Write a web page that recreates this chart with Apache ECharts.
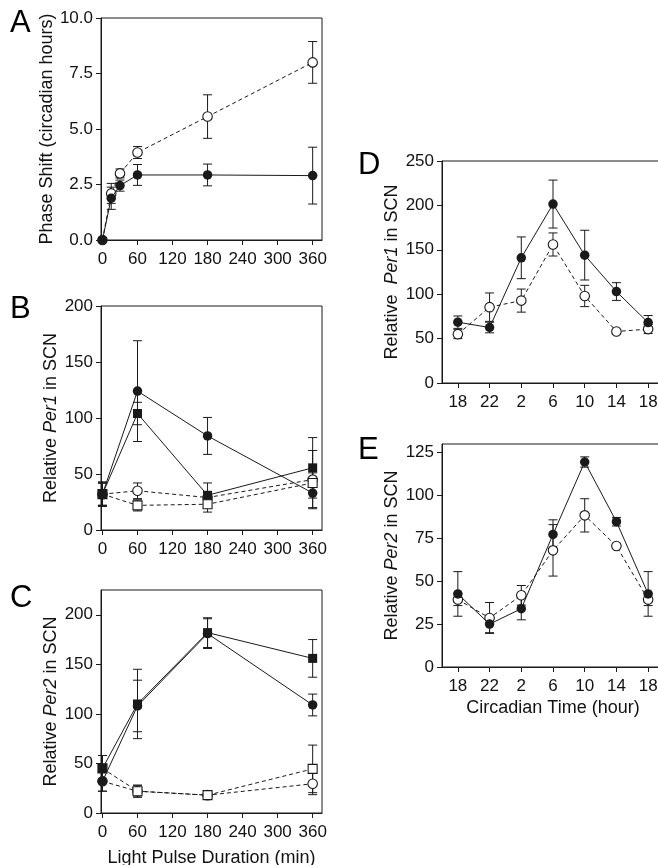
<!DOCTYPE html>
<html>
<head>
<meta charset="utf-8">
<script src="https://cdn.jsdelivr.net/npm/echarts@6/dist/echarts.min.js"></script>
<style>
  html, body { margin: 0; padding: 0; overflow: hidden; background: #fff; }
  #chart { width: 672px; height: 865px; }
</style>
</head>
<body>
<div id="chart"></div>
<script>
// ---- Panel A: phase shift vs light pulse duration ----
const pulseA = [0, 15, 30, 60, 180, 360];
const shiftFilled = [0, 1.88, 2.45, 2.93, 2.93, 2.9];
const shiftFilledErr = [0, 0.5, 0.25, 0.47, 0.49, 1.28];
const shiftOpen = [0, 2.1, 3.0, 3.94, 5.56, 8.0];
const shiftOpenErr = [0, 0.45, 0.2, 0.27, 0.98, 0.94];

// ---- Panels B, C: Per1 / Per2 vs light pulse duration ----
const pulseBC = [0, 60, 180, 360];
const per1FilledCircle = [32, 124, 84, 33];
const per1FilledCircleErr = [11, 45, 16.5, 13];
const per1FilledSquare = [32, 104, 31, 55.5];
const per1FilledSquareErr = [10, 10, 11, 27];
const per1OpenCircle = [32, 35, 29, 45];
const per1OpenCircleErr = [10, 7, 5, 26];
const per1OpenSquare = [32, 22, 23, 42];
const per1OpenSquareErr = [10, 5, 7, 9];

const per2FilledSquare = [45, 110, 182, 156];
const per2FilledSquareErr = [13, 35, 15, 19];
const per2FilledCircle = [32, 108, 181, 109];
const per2FilledCircleErr = [10, 26, 15, 11];
const per2OpenSquare = [45, 22, 18, 44.5];
const per2OpenSquareErr = [13, 6, 3, 24];
const per2OpenCircle = [32, 22, 18, 29.5];
const per2OpenCircleErr = [10, 6, 3, 11];

// ---- Panels D, E: Per1 / Per2 across circadian time ----
const ctLabels = ['18', '22', '2', '6', '10', '14', '18'];
const per1CtFilled = [68.5, 62.5, 141, 201.5, 144, 103, 68];
const per1CtFilledErr = [7, 6, 23.5, 27, 28, 10, 8];
const per1CtOpen = [55, 85.4, 92.8, 156, 98, 58, 60.7];
const per1CtOpenErr = [5, 16, 13, 13, 12, 2, 5];
const per2CtFilled = [42.6, 25, 34, 77.3, 119.5, 84.7, 42.6];
const per2CtFilledErr = [13, 5, 6.5, 8.5, 3, 2.5, 13];
const per2CtOpen = [39.3, 28.6, 41.8, 68, 88.4, 70.5, 39.3];
const per2CtOpenErr = [3.5, 9, 5.7, 15, 9.7, 1, 3.5];

const pulseTicks = [0, 60, 120, 180, 240, 300, 360];
const ctIndex = ctLabels.map((_, i) => i);

const INK = '#1a1a1a';
const TXT = '#121212';
const FONT = '"Liberation Sans", Arial, Helvetica, sans-serif';
const TICK_FS = 17;
const NAME_FS = 18;

// D and E run past the right edge of the page, so the canvas is a little wider than the window
const grids = [
  { left: 101, top: 18, width: 221, height: 222 },   // A
  { left: 101, top: 306, width: 221, height: 224 },  // B
  { left: 101, top: 590, width: 221, height: 223 },  // C
  { left: 442, top: 161, width: 222, height: 222 },  // D
  { left: 442, top: 444, width: 222, height: 223 }   // E
].map(g => Object.assign({
  show: true, borderColor: INK, borderWidth: 1, backgroundColor: 'transparent',
  containLabel: false, outerBoundsMode: 'none'
}, g));

const richName = {
  a: { fontSize: NAME_FS, fontFamily: FONT, color: TXT },
  i: { fontSize: NAME_FS, fontFamily: FONT, color: TXT, fontStyle: 'italic' }
};

function baseAxis(gridIndex) {
  return {
    gridIndex,
    type: 'value',
    axisLine: { show: true, onZero: false, lineStyle: { color: INK, width: 1 } },
    axisTick: { show: true, length: 5, inside: false, lineStyle: { color: INK, width: 1 } },
    axisLabel: { fontSize: TICK_FS, fontFamily: FONT, color: TXT },
    splitLine: { show: false },
    nameTextStyle: { fontSize: NAME_FS, fontFamily: FONT, color: TXT, rich: richName }
  };
}

function pulseXAxis(gridIndex, name) {
  const ax = baseAxis(gridIndex);
  ax.min = -2.5; ax.max = 376;
  ax.axisTick.customValues = pulseTicks;
  ax.axisLabel.customValues = pulseTicks;
  ax.axisLabel.margin = 11;
  if (name) { ax.name = name; ax.nameLocation = 'middle'; ax.nameGap = 36; }
  return ax;
}

function ctXAxis(gridIndex, name) {
  const ax = baseAxis(gridIndex);
  ax.min = -0.5; ax.max = 6.5;
  ax.axisTick.customValues = ctIndex;
  ax.axisLabel.customValues = ctIndex;
  ax.axisLabel.formatter = v => ctLabels[Math.round(v)];
  ax.axisLabel.margin = 11;
  if (name) { ax.name = name; ax.nameLocation = 'middle'; ax.nameGap = 32; }
  return ax;
}

function yAxis(gridIndex, min, max, ticks, name, gap, fmt) {
  const ax = baseAxis(gridIndex);
  ax.min = min; ax.max = max;
  ax.axisTick.customValues = ticks;
  ax.axisLabel.customValues = ticks;
  ax.axisLabel.margin = 8;
  if (fmt) ax.axisLabel.formatter = fmt;
  ax.name = name; ax.nameLocation = 'middle'; ax.nameGap = gap;
  return ax;
}

function lineSeries(g, xs, ys, filled, shape, dashed) {
  return {
    type: 'line', xAxisIndex: g, yAxisIndex: g,
    data: xs.map((x, i) => [x, ys[i]]),
    symbol: shape, symbolSize: shape === 'rect' ? 9 : 9.5,
    lineStyle: { color: INK, width: 1, type: dashed ? [4, 3] : 'solid' },
    itemStyle: { color: filled ? INK : '#fff', borderColor: INK, borderWidth: filled ? 0 : 1.1 },
    z: filled ? 5 : 4, animation: false, silent: true, clip: false
  };
}

function errSeries(g, xs, ys, errs) {
  const rows = [];
  xs.forEach((x, i) => { if (errs[i] > 0) rows.push([x, ys[i] - errs[i], ys[i] + errs[i]]); });
  return {
    type: 'custom', xAxisIndex: g, yAxisIndex: g, z: 3,
    data: rows, encode: { x: 0, y: [1, 2] },
    animation: false, silent: true, clip: false,
    renderItem: function (params, api) {
      const lo = api.coord([api.value(0), api.value(1)]);
      const hi = api.coord([api.value(0), api.value(2)]);
      const w = 4.5;
      const st = { stroke: INK, lineWidth: 1, fill: null };
      return {
        type: 'group',
        children: [
          { type: 'line', shape: { x1: lo[0], y1: lo[1], x2: hi[0], y2: hi[1] }, style: st },
          { type: 'line', shape: { x1: lo[0] - w, y1: lo[1], x2: lo[0] + w, y2: lo[1] }, style: st },
          { type: 'line', shape: { x1: hi[0] - w, y1: hi[1], x2: hi[0] + w, y2: hi[1] }, style: st }
        ]
      };
    }
  };
}

const series = [
  // A
  errSeries(0, pulseA, shiftOpen, shiftOpenErr),
  errSeries(0, pulseA, shiftFilled, shiftFilledErr),
  lineSeries(0, pulseA, shiftOpen, false, 'circle', true),
  lineSeries(0, pulseA, shiftFilled, true, 'circle', false),
  // B
  errSeries(1, pulseBC, per1OpenCircle, per1OpenCircleErr),
  errSeries(1, pulseBC, per1OpenSquare, per1OpenSquareErr),
  errSeries(1, pulseBC, per1FilledCircle, per1FilledCircleErr),
  errSeries(1, pulseBC, per1FilledSquare, per1FilledSquareErr),
  lineSeries(1, pulseBC, per1OpenCircle, false, 'circle', true),
  lineSeries(1, pulseBC, per1OpenSquare, false, 'rect', true),
  lineSeries(1, pulseBC, per1FilledCircle, true, 'circle', false),
  lineSeries(1, pulseBC, per1FilledSquare, true, 'rect', false),
  // C
  errSeries(2, pulseBC, per2OpenCircle, per2OpenCircleErr),
  errSeries(2, pulseBC, per2OpenSquare, per2OpenSquareErr),
  errSeries(2, pulseBC, per2FilledCircle, per2FilledCircleErr),
  errSeries(2, pulseBC, per2FilledSquare, per2FilledSquareErr),
  lineSeries(2, pulseBC, per2OpenCircle, false, 'circle', true),
  lineSeries(2, pulseBC, per2OpenSquare, false, 'rect', true),
  lineSeries(2, pulseBC, per2FilledCircle, true, 'circle', false),
  lineSeries(2, pulseBC, per2FilledSquare, true, 'rect', false),
  // D
  errSeries(3, ctIndex, per1CtOpen, per1CtOpenErr),
  errSeries(3, ctIndex, per1CtFilled, per1CtFilledErr),
  lineSeries(3, ctIndex, per1CtOpen, false, 'circle', true),
  lineSeries(3, ctIndex, per1CtFilled, true, 'circle', false),
  // E
  errSeries(4, ctIndex, per2CtOpen, per2CtOpenErr),
  errSeries(4, ctIndex, per2CtFilled, per2CtFilledErr),
  lineSeries(4, ctIndex, per2CtOpen, false, 'circle', true),
  lineSeries(4, ctIndex, per2CtFilled, true, 'circle', false)
];

function panelLetter(ch, x, y) {
  return {
    type: 'text', left: x, top: y, silent: true,
    style: { text: ch, fontSize: 31, fontFamily: FONT, fill: '#000' }
  };
}

const chart = echarts.init(document.getElementById('chart'), null, { renderer: 'canvas' });
chart.setOption({
  animation: false,
  backgroundColor: '#fff',
  textStyle: { fontFamily: FONT },
  grid: grids,
  xAxis: [
    pulseXAxis(0),
    pulseXAxis(1),
    pulseXAxis(2, 'Light Pulse Duration (min)'),
    ctXAxis(3),
    ctXAxis(4, 'Circadian Time (hour)')
  ],
  yAxis: [
    yAxis(0, 0, 10, [0, 2.5, 5, 7.5, 10], 'Phase Shift (circadian hours)', 41, v => v.toFixed(1)),
    yAxis(1, 0, 200, [0, 50, 100, 150, 200], '{a|Relative }{i|Per1}{a| in SCN}', 41),
    yAxis(2, 0, 225, [0, 50, 100, 150, 200], '{a|Relative }{i|Per2}{a| in SCN}', 41),
    yAxis(3, 0, 250, [0, 50, 100, 150, 200, 250], '{a|Relative  }{i|Per1}{a| in SCN}', 41),
    yAxis(4, 0, 130, [0, 25, 50, 75, 100, 125], '{a|Relative }{i|Per2}{a| in SCN}', 41)
  ],
  series: series,
  graphic: [
    panelLetter('A', 10, 8),
    panelLetter('B', 10, 294),
    panelLetter('C', 10, 583),
    panelLetter('D', 358, 150),
    panelLetter('E', 358, 435)
  ]
});
</script>
</body>
</html>
